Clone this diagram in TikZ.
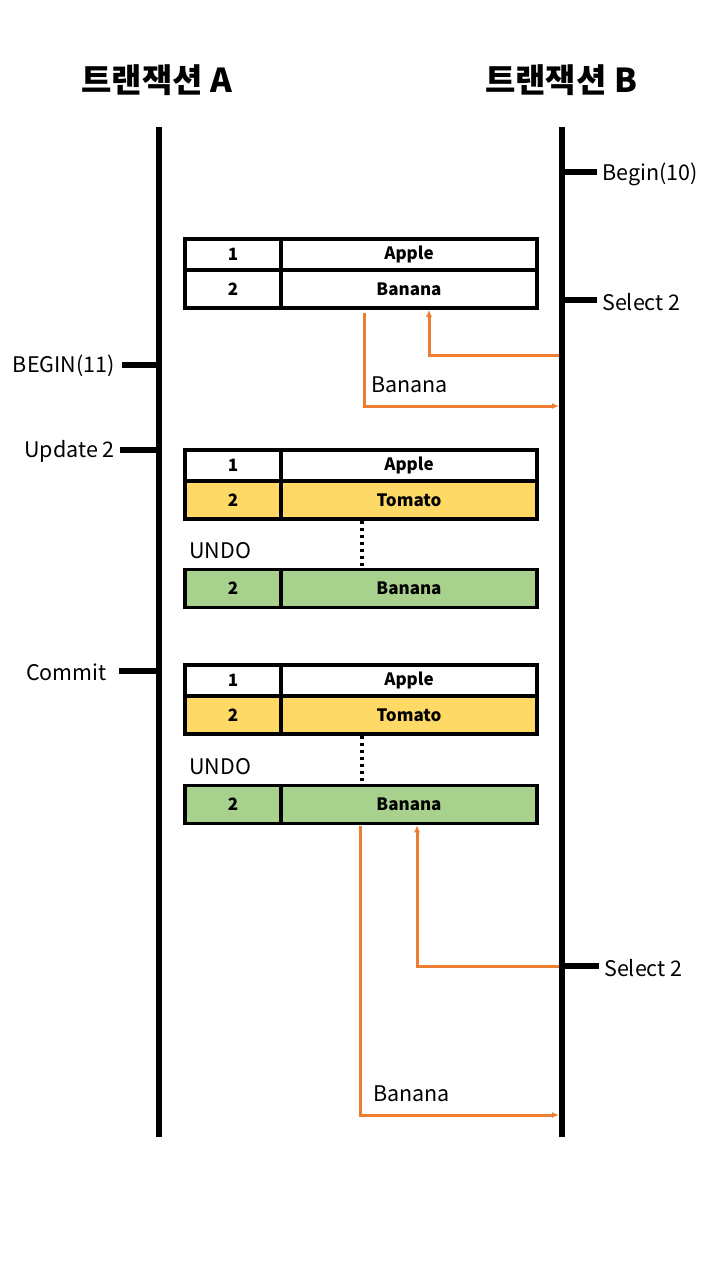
\documentclass[tikz,border=0pt]{standalone}
\usepackage{fontspec}
\setmainfont{Noto Sans CJK KR}
\usepackage{tikz}
\usetikzlibrary{arrows.meta}
\definecolor{rowyel}{HTML}{FFD966}
\definecolor{rowgrn}{HTML}{A9D18E}
\definecolor{readorg}{HTML}{ED7D31}
\newcommand{\oarw}{-{Latex[length=7pt,width=6pt]}}
\tikzset{
  cell/.style={draw,line width=3.5pt,inner sep=0pt,minimum height=31pt,font=\fontsize{17}{17}\selectfont\bfseries},
  numcell/.style={cell,minimum width=96pt},
  valcell/.style={cell,minimum width=256pt},
  lbl/.style={font=\fontsize{21.5}{21.5}\selectfont,inner sep=0pt},
  tick/.style={line width=6pt},
  life/.style={line width=6.5pt},
  undoline/.style={line width=3.5pt,dash pattern=on 3.5pt off 3.5pt},
  readline/.style={readorg,line width=3pt}
}
\begin{document}
\begin{tikzpicture}[x=1pt,y=-1pt]
\useasboundingbox (0,0) rectangle (720,1280);
%titles
\node[font=\fontsize{33}{33}\selectfont\bfseries] (ta) at (157,80) {트랜잭션 A};
\node[font=\fontsize{33}{33}\selectfont\bfseries] (tb) at (561,80) {트랜잭션 B};
%lifelines
\coordinate (la0) at (159,127);
\coordinate (la1) at (159,1137);
\coordinate (lb0) at (562,127);
\coordinate (lb1) at (562,1137);
\draw[life] (la0) -- (la1);
\draw[life] (lb0) -- (lb1);
%transaction B events
\coordinate (kb1) at (562,172);
\coordinate (kb2) at (562,300);
\coordinate (kb3) at (562,966);
\node[lbl,anchor=west] (bgb) at (602,174) {Begin(10)};
\node[lbl,anchor=west] (sel1) at (602,302) {Select 2};
\node[lbl,anchor=west] (sel2) at (604,968) {Select 2};
\draw[tick] (kb1) -- ++(35,0);
\draw[tick] (kb2) -- ++(35,0);
\draw[tick] (kb3) -- ++(37,0);
%transaction A events
\coordinate (ka1) at (159,365);
\coordinate (ka2) at (159,450);
\coordinate (ka3) at (159,671);
\node[lbl,anchor=east] (bga) at (115,366) {BEGIN(11)};
\node[lbl,anchor=east] (upd) at (115,451) {Update 2};
\node[lbl,anchor=east] (cmt) at (107,672) {Commit};
\draw[tick] (ka1) -- ++(-37,0);
\draw[tick] (ka2) -- ++(-39,0);
\draw[tick] (ka3) -- ++(-40,0);
%table before update
\node[numcell] (a1n) at (233,254.5) {1};
\node[valcell] (a1v) at (409,254.5) {Apple};
\node[numcell,minimum height=38pt] (b1n) at (233,289) {2};
\node[valcell,minimum height=38pt] (b1v) at (409,289) {Banana};
%table after update
\node[numcell] (a2n) at (233,465.5) {1};
\node[valcell] (a2v) at (409,465.5) {Apple};
\node[numcell,minimum height=38pt,fill=rowyel] (t2n) at (233,500) {2};
\node[valcell,minimum height=38pt,fill=rowyel] (t2v) at (409,500) {Tomato};
\node[numcell,minimum height=38pt,fill=rowgrn] (u2n) at (233,588.5) {2};
\node[valcell,minimum height=38pt,fill=rowgrn] (u2v) at (409,588.5) {Banana};
\node[lbl,anchor=west] (undo2) at (189,551) {UNDO};
\draw[undoline] ([xshift=-47pt]t2v.south) -- ([xshift=-47pt]u2v.north);
%table after commit
\node[numcell] (a3n) at (233,680.5) {1};
\node[valcell] (a3v) at (409,680.5) {Apple};
\node[numcell,minimum height=38pt,fill=rowyel] (t3n) at (233,715) {2};
\node[valcell,minimum height=38pt,fill=rowyel] (t3v) at (409,715) {Tomato};
\node[numcell,minimum height=38pt,fill=rowgrn] (u3n) at (233,804.5) {2};
\node[valcell,minimum height=38pt,fill=rowgrn] (u3v) at (409,804.5) {Banana};
\node[lbl,anchor=west] (undo3) at (189,767) {UNDO};
\draw[undoline] ([xshift=-47pt]t3v.south) -- ([xshift=-47pt]u3v.north);
%reads of transaction B
\coordinate (rq1) at (559,355);
\coordinate (rr1) at (559,406);
\coordinate (rq2) at (559,966);
\coordinate (rr2) at (559,1115);
\draw[readline,\oarw] (rq1) -| ([xshift=20pt]b1v.south);
\draw[readline,\oarw] ([xshift=-45pt,yshift=-3pt]b1v.south) |- (rr1);
\node[lbl,anchor=west] (res1) at (371,385) {Banana};
\draw[readline,\oarw] (rq2) -| ([xshift=8pt]u3v.south);
\draw[readline,\oarw] ([xshift=-49pt,yshift=-1pt]u3v.south) |- (rr2);
\node[lbl,anchor=west] (res2) at (373,1094) {Banana};
\end{tikzpicture}
\end{document}
